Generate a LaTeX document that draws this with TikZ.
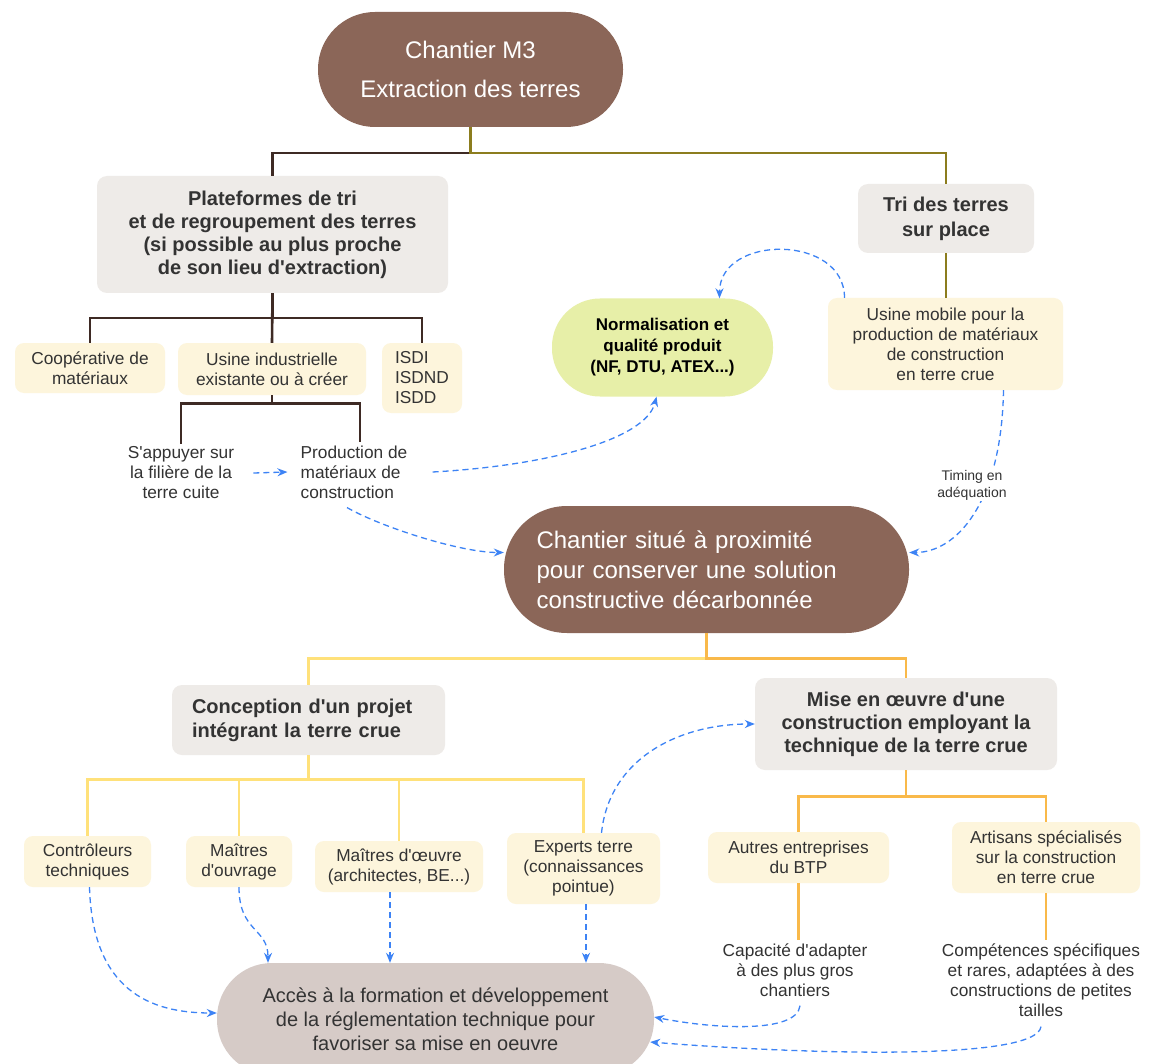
\documentclass[tikz,border=0pt]{standalone}
\usepackage{fontspec}
\setmainfont{Liberation Sans}[Ligatures=TeXOff]
\usetikzlibrary{arrows.meta,positioning,calc}
\definecolor{brunM}{HTML}{8B6658}
\definecolor{grisbox}{HTML}{EEEBE8}
\definecolor{cremebox}{HTML}{FDF5DC}
\definecolor{vertnorm}{HTML}{E7EFA8}
\definecolor{taupe}{HTML}{D6CBC7}
\definecolor{bleuflux}{HTML}{3D83F5}
\definecolor{brunL}{HTML}{3E2A24}
\definecolor{oliveL}{HTML}{8C7D1E}
\definecolor{jauneL}{HTML}{FFE17A}
\definecolor{orangeL}{HTML}{F9B94A}
\definecolor{texte}{HTML}{333333}
\tikzset{
    pillbox/.style={fill=brunM, text=white, align=center, inner sep=0pt},
    greybox/.style={fill=grisbox, text=texte, rounded corners=10pt, align=center,
        font=\fontsize{20pt}{24pt}\selectfont\bfseries, inner sep=0pt},
    creambox/.style={fill=cremebox, text=texte, rounded corners=9pt, align=center,
        font=\fontsize{17.3pt}{20pt}\selectfont, inner sep=0pt},
    plaintext/.style={text=texte, align=center, inner sep=3pt,
        font=\fontsize{17.3pt}{20pt}\selectfont},
    treeline/.style={line width=2.6pt},
    flowarrow/.style={draw=bleuflux, line width=1.3pt, dash pattern=on 6pt off 4pt,
        -{Stealth[length=10pt, width=8pt]}}
}

\begin{document}
\begin{tikzpicture}[x=1pt, y=-1pt]
\clip (0,0) rectangle (1153,1064);
\fill[white] (0,0) rectangle (1153,1064);

% extraction et tri
\node[pillbox, minimum width=305pt, minimum height=115pt, rounded corners=57pt,
    font=\fontsize{24pt}{39pt}\selectfont] (m3) at (470.5,69.5) {Chantier M3\\Extraction des terres};
\node[greybox, minimum width=351pt, minimum height=117pt, font=\fontsize{20pt}{23pt}\selectfont\bfseries] (plat) at (272.5,234.5)
    {Plateformes de tri\\et de regroupement des terres\\(si possible au plus proche\\de son lieu d'extraction)};
\node[greybox, minimum width=176pt, minimum height=69pt, font=\fontsize{20pt}{25pt}\selectfont\bfseries] (tri) at (946,218.5)
    {Tri des terres\\sur place};
\node[creambox, minimum width=150pt, minimum height=50pt] (coop) at (90,368) {Coopérative de\\matériaux};
\node[creambox, minimum width=188pt, minimum height=52pt] (usine) at (272,369) {Usine industrielle\\existante ou à créer};
\node[creambox, minimum width=80pt, minimum height=70pt, align=left] (isdi) at (422,378) {ISDI\\ISDND\\ISDD};
\node[plaintext] (appui) at (181,473) {S'appuyer sur\\la filière de la\\terre cuite};
\node[plaintext, align=left] (prod) at (354,472) {Production de\\matériaux de\\construction};
\node[pillbox, fill=vertnorm, text=black, minimum width=221pt, minimum height=98pt, rounded corners=48pt,
    font=\fontsize{17pt}{21pt}\selectfont\bfseries] (norm) at (662.5,347.5) {Normalisation et\\qualité produit\\(NF, DTU, ATEX...)};
\node[creambox, minimum width=235pt, minimum height=92pt] (mobile) at (945.5,344)
    {Usine mobile pour la\\production de matériaux\\de construction\\en terre crue};

% chantier
\node[pillbox, minimum width=405pt, minimum height=127pt, rounded corners=63pt, text width=340pt, align=left,
    font=\fontsize{24pt}{30pt}\selectfont] (situe) at (706.5,569.5)
    {Chantier situé à proximité\\pour conserver une solution\\constructive décarbonnée};

% conception et mise en oeuvre
\node[greybox, minimum width=273pt, minimum height=70pt, text width=233pt, align=left] (conc) at (308.5,720)
    {Conception d'un projet\\intégrant la terre crue};
\node[greybox, minimum width=302pt, minimum height=92pt, font=\fontsize{20pt}{23pt}\selectfont\bfseries] (mise) at (906,724)
    {Mise en œuvre d'une\\construction employant la\\technique de la terre crue};
\node[creambox, minimum width=127pt, minimum height=51pt] (ctrl) at (87.5,861.5) {Contrôleurs\\techniques};
\node[creambox, minimum width=106pt, minimum height=51pt] (ouvr) at (239,861.5) {Maîtres\\d'ouvrage};
\node[creambox, minimum width=168pt, minimum height=51pt] (oeuvre) at (399,866.5) {Maîtres d'œuvre\\(architectes, BE...)};
\node[creambox, minimum width=153pt, minimum height=71pt] (expert) at (583.5,868.5) {Experts terre\\(connaissances\\pointue)};
\node[creambox, minimum width=181pt, minimum height=51pt] (autre) at (798.5,857.5) {Autres entreprises\\du BTP};
\node[creambox, minimum width=188pt, minimum height=71pt] (artisan) at (1046,857.5)
    {Artisans spécialisés\\sur la construction\\en terre crue};
\node[plaintext] (capa) at (795,970) {Capacité d'adapter\\à des plus gros\\chantiers};
\node[plaintext] (compet) at (1041,980)
    {Compétences spécifiques\\et rares, adaptées à des\\constructions de petites\\tailles};
\node[pillbox, fill=taupe, text=texte, minimum width=437pt, minimum height=112pt, rounded corners=55pt,
    font=\fontsize{20pt}{24pt}\selectfont] (acces) at (435.5,1019)
    {Accès à la formation et développement\\de la réglementation technique pour\\favoriser sa mise en oeuvre};

% arbre
\draw[treeline, brunL] (m3.south) -- ++(0,26) -| (plat.north);
\draw[treeline, oliveL] (m3.south) -- ++(0,26) -| (tri.north);
\draw[treeline, oliveL] (tri.south) -- (tri.south |- mobile.north);
\draw[treeline, brunL] (plat.south) -- ++(0,25) -| (coop.north);
\draw[treeline, brunL] (plat.south) -- ++(0,25) -| (isdi.north);
\draw[treeline, brunL] (plat.south) -- (usine.north);
\draw[treeline, brunL] (usine.south) -- ++(0,8) -| (appui.north);
\draw[treeline, brunL] (usine.south) -- ++(0,8) -| ([xshift=6pt]prod.north);
\draw[treeline, jauneL] (situe.south) -- ++(0,25) -| (conc.north);
\draw[treeline, orangeL] (situe.south) -- ++(0,25) -| (mise.north);
\foreach \n in {ctrl, ouvr, oeuvre, expert}
    \draw[treeline, jauneL] (conc.south) -- ++(0,24) -| (\n.north);
\foreach \n in {autre, artisan}
    \draw[treeline, orangeL] (mise.south) -- ++(0,26) -| (\n.north);
\draw[treeline, orangeL] (autre.south) -- (autre.south |- capa.north);
\draw[treeline, orangeL] (artisan.south) -- (artisan.south |- compet.north);

% flux
\draw[flowarrow] ([xshift=16pt]appui.east) -- ([xshift=-10pt]prod.west);
\draw[flowarrow] ([xshift=22pt]prod.east) .. controls +(110,-6) and +(-11,44) .. ([xshift=-6pt]norm.south);
\draw[flowarrow] ([xshift=-7pt,yshift=-6pt]prod.south) .. controls +(33,19) and +(-44,0) .. ([yshift=17pt]situe.west);
\draw[flowarrow] ([xshift=-101pt]mobile.north) .. controls +(0,-64) and +(0,-64) .. ([xshift=57pt]norm.north);
\draw[flowarrow] ([xshift=58pt]mobile.south) .. controls +(-2,115) and +(46,0) .. ([yshift=17pt]situe.east);
\node[plaintext, font=\fontsize{14pt}{17pt}\selectfont, fill=white, inner sep=1pt] (timing) at (972,485) {Timing en\\adéquation};
\draw[flowarrow] ([xshift=18pt]expert.north) .. controls +(8,-75) and +(-75,0) .. (mise.west);
\draw[flowarrow] ([xshift=2pt]ctrl.south) .. controls +(3,103) and +(-67,0) .. ([yshift=6pt]acces.west);
\draw[flowarrow] (ouvr.south) .. controls +(0,45) and +(0,-35) .. ([xshift=-167.5pt]acces.north);
\draw[flowarrow] ([xshift=-9pt]oeuvre.south) -- ([xshift=-9pt]oeuvre.south |- acces.north);
\draw[flowarrow] ([xshift=2.5pt]expert.south) -- ([xshift=2.5pt]expert.south |- acces.north);
\draw[flowarrow] ([xshift=5pt,yshift=-6pt]capa.south) .. controls +(-3,28) and +(60,12) .. ([yshift=2pt]acces.east);
\draw[flowarrow] ([yshift=-7pt]compet.south) .. controls +(-5,35) and +(150,12) .. ([xshift=-4pt,yshift=-23pt]acces.east);
\end{tikzpicture}
\end{document}
